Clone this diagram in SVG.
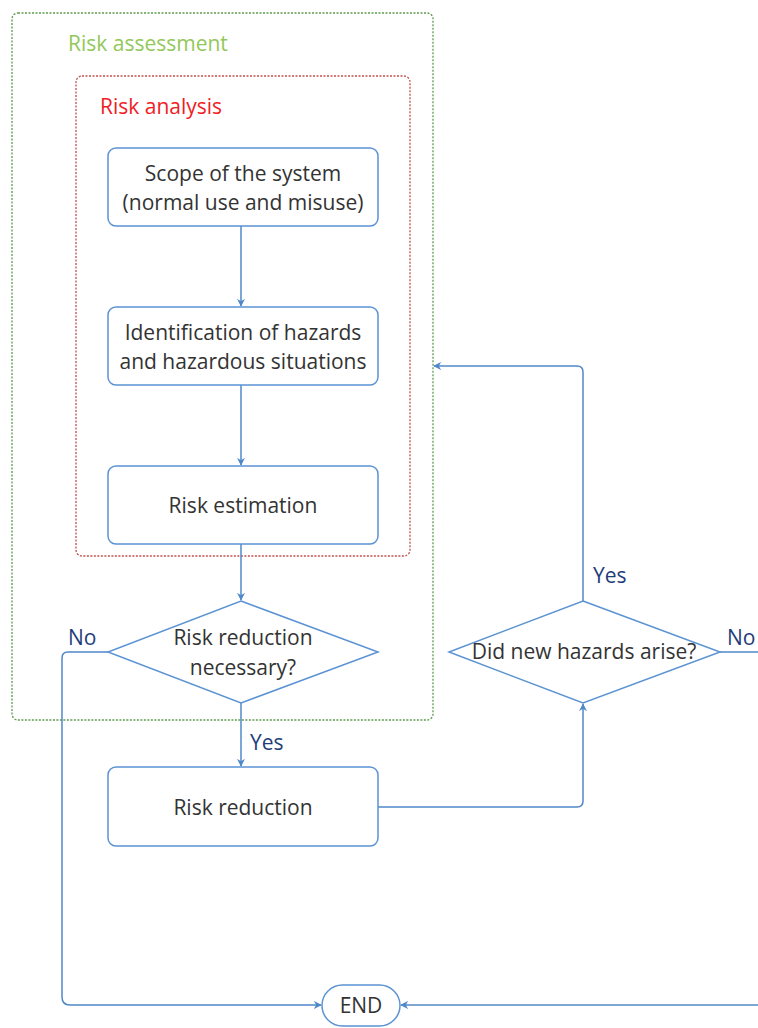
<svg xmlns="http://www.w3.org/2000/svg" width="758" height="1028" viewBox="0 0 758 1028">
<style>
.node{fill:#fff;stroke:#5b93d3;stroke-width:1.5}
.t{font-family:"Open Sans","Noto Sans",sans-serif;font-size:21px;fill:#333;text-anchor:middle}
.lbl{font-family:"Open Sans","Noto Sans",sans-serif;font-size:21px;fill:#1f3d7a}
.c{fill:none;stroke:#4f88c9;stroke-width:1.5}
</style>
<defs>
<marker id="a" viewBox="0 0 10 10" refX="9" refY="5" markerWidth="8" markerHeight="8" markerUnits="userSpaceOnUse" orient="auto">
<path d="M0,0 L10,5 L0,10 L3,5 Z" fill="#4f88c9"/>
</marker>
</defs>
<rect width="758" height="1028" fill="#fff"/>
<g id="risk-assessment">
<rect x="12" y="13" width="421" height="707" rx="6" fill="none" stroke="#5e9a4e" stroke-width="1.3" stroke-dasharray="2,1.5"/>
<text x="68" y="51" class="lbl" style="fill:#92c85a">Risk assessment</text>
</g>
<g id="risk-analysis">
<rect x="76" y="76" width="334" height="480" rx="6" fill="none" stroke="#c0504d" stroke-width="1.3" stroke-dasharray="2,1.5"/>
<text x="100" y="114" class="lbl" style="fill:#f01c24">Risk analysis</text>
</g>
<g id="connectors">
<line class="c" x1="241" y1="226" x2="241" y2="306" marker-end="url(#a)"/>
<line class="c" x1="241" y1="385" x2="241" y2="465" marker-end="url(#a)"/>
<line class="c" x1="241" y1="544" x2="241" y2="600" marker-end="url(#a)"/>
<line class="c" x1="241" y1="703" x2="241" y2="766" marker-end="url(#a)"/>
<path class="c" d="M108,652 H68 Q62,652 62,658 V997 Q62,1005 70,1005 H321" marker-end="url(#a)"/>
<path class="c" d="M378,807 H577 Q583,807 583,801 V704" marker-end="url(#a)"/>
<path class="c" d="M583,601 V372 Q583,366 577,366 H434" marker-end="url(#a)"/>
<line class="c" x1="720" y1="652" x2="758" y2="652"/>
<line class="c" x1="758" y1="1005" x2="401" y2="1005" marker-end="url(#a)"/>
<text x="68" y="645" class="lbl">No</text>
<text x="250" y="750" class="lbl">Yes</text>
<text x="593" y="583" class="lbl">Yes</text>
<text x="727" y="645" class="lbl">No</text>
</g>
<g id="scope">
<rect class="node" x="108" y="148" width="270" height="78" rx="8"/>
<text class="t" x="243" y="181">Scope of the system</text>
<text class="t" x="243" y="210">(normal use and misuse)</text>
</g>
<g id="identification">
<rect class="node" x="108" y="307" width="270" height="78" rx="8"/>
<text class="t" x="243" y="340">Identification of hazards</text>
<text class="t" x="243" y="369">and hazardous situations</text>
</g>
<g id="estimation">
<rect class="node" x="108" y="466" width="270" height="78" rx="8"/>
<text class="t" x="243" y="513">Risk estimation</text>
</g>
<g id="decision1">
<polygon class="node" points="241,601 378,652 241,703 108,652"/>
<text class="t" x="243" y="645">Risk reduction</text>
<text class="t" x="243" y="675">necessary?</text>
</g>
<g id="reduction">
<rect class="node" x="108" y="767" width="270" height="79" rx="8"/>
<text class="t" x="243" y="815">Risk reduction</text>
</g>
<g id="decision2">
<polygon class="node" points="583,601 720,652 583,703 449,652"/>
<text class="t" x="584" y="659">Did new hazards arise?</text>
</g>
<g id="end">
<rect class="node" x="322" y="985" width="78" height="41" rx="20.5"/>
<text class="t" x="361" y="1013">END</text>
</g>
</svg>
